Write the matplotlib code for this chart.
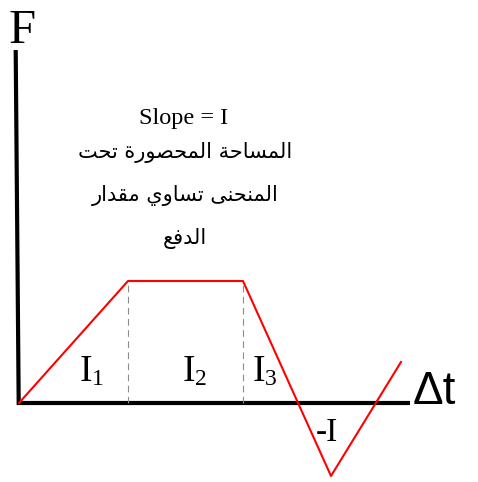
import matplotlib
matplotlib.use('Agg')
import matplotlib.pyplot as plt

# Force vs time (arbitrary units), corners of the red curve
t_values = [0, 10.9, 22.4, 31.2, 38.2]
f_values = [0, 12.2, 12.2, -7.3, 4.1]

# Area labels and where they sit (t of the "I", F of baseline)
area_labels = ['1', '2', '3']
area_label_t = [6.1, 16.4, 23.4]

slope_text = 'Slope = I'
arabic_lines = ['المساحة المحصورة تحت', 'المنحنى تساوي مقدار', 'الدفع']

# Arabic presentation forms: isolated, final, initial, medial
FORMS = {
    'ا': ('\uFE8D', '\uFE8E', None, None),
    'ة': ('\uFE93', '\uFE94', None, None),
    'ت': ('\uFE95', '\uFE96', '\uFE97', '\uFE98'),
    'ح': ('\uFEA1', '\uFEA2', '\uFEA3', '\uFEA4'),
    'د': ('\uFEA9', '\uFEAA', None, None),
    'ر': ('\uFEAD', '\uFEAE', None, None),
    'س': ('\uFEB1', '\uFEB2', '\uFEB3', '\uFEB4'),
    'ص': ('\uFEB9', '\uFEBA', '\uFEBB', '\uFEBC'),
    'ع': ('\uFEC9', '\uFECA', '\uFECB', '\uFECC'),
    'ف': ('\uFED1', '\uFED2', '\uFED3', '\uFED4'),
    'ق': ('\uFED5', '\uFED6', '\uFED7', '\uFED8'),
    'ل': ('\uFEDD', '\uFEDE', '\uFEDF', '\uFEE0'),
    'م': ('\uFEE1', '\uFEE2', '\uFEE3', '\uFEE4'),
    'ن': ('\uFEE5', '\uFEE6', '\uFEE7', '\uFEE8'),
    'و': ('\uFEED', '\uFEEE', None, None),
    'ى': ('\uFEEF', '\uFEF0', None, None),
    'ي': ('\uFEF1', '\uFEF2', '\uFEF3', '\uFEF4'),
}


def shape_arabic(text):
    # matplotlib has no shaping, so pick the joined forms by hand and reverse
    out = []
    for i, ch in enumerate(text):
        if ch not in FORMS:
            out.append(ch)
            continue
        prev = text[i - 1] if i > 0 else ''
        nxt = text[i + 1] if i + 1 < len(text) else ''
        join_prev = prev in FORMS and FORMS[prev][2] is not None
        join_next = FORMS[ch][2] is not None and nxt in FORMS
        iso, fin, ini, med = FORMS[ch]
        if join_prev and join_next:
            out.append(med)
        elif join_prev:
            out.append(fin)
        elif join_next:
            out.append(ini)
        else:
            out.append(iso)
    return ''.join(out)[::-1]


fig = plt.figure(figsize=(4.78, 4.82), dpi=100)
ax = fig.add_axes([0, 0, 1, 1])
ax.set_xlim(-1.9, 45.9)
ax.set_ylim(-7.9, 40.3)
ax.axis('off')

# axes drawn by hand (the vertical one leans slightly)
ax.plot([-0.33, -0.03], [35.3, -0.2], color='black', lw=3, solid_capstyle='butt')
ax.plot([-0.2, 39.1], [0, 0], color='black', lw=3, solid_capstyle='butt')

# dashed dividers under the plateau
for t in t_values[1:3]:
    ax.plot([t, t], [0, f_values[1]], color='#8c8c8c', lw=0.8, dashes=(6, 4))

ax.plot(t_values, f_values, color='red', lw=1.5)

serif = 'Liberation Serif'
ax.text(0.3, 36.0, 'F', fontsize=35, family=serif, ha='center', va='baseline')
ax.text(39.4, -0.1, 'Δt', fontsize=33, family='Liberation Sans', va='baseline')

for lab, t in zip(area_labels, area_label_t):
    ax.text(t, 2.2, 'I', fontsize=27, family=serif, va='baseline')
    ax.text(t + 1.2, 1.8, lab, fontsize=17, family=serif, va='baseline')
ax.text(29.7, -3.8, '-I', fontsize=24, family=serif, va='baseline')

ax.text(16.5, 27.9, slope_text, fontsize=17.5, family=serif, ha='center', va='baseline')
for k, line in enumerate(arabic_lines):
    ax.text(16.6, 25.0 - 4.3 * k, shape_arabic(line), fontsize=15,
            family='DejaVu Sans', ha='center', va='center')

fig.savefig('out.png', dpi=100)
